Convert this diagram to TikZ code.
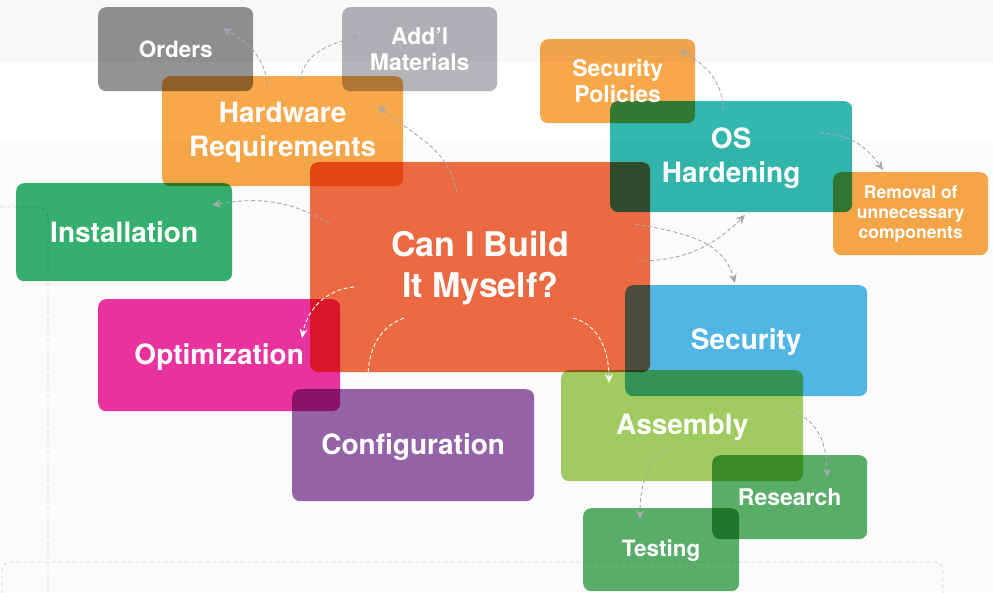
\documentclass[tikz,border=0pt]{standalone}
\usepackage{fontspec}
\setmainfont{TeX Gyre Heros}
\usetikzlibrary{arrows.meta}
\definecolor{cOrd}{HTML}{939395}
\definecolor{cAdd}{HTML}{B4B5B8}
\definecolor{cOra}{HTML}{F7A84A}
\definecolor{cCan}{HTML}{EF6C44}
\definecolor{cIns}{HTML}{35B26F}
\definecolor{cOpt}{HTML}{EC33A0}
\definecolor{cCfg}{HTML}{9765AA}
\definecolor{cOS}{HTML}{33B7AE}
\definecolor{cSec}{HTML}{52B8E6}
\definecolor{cAsm}{HTML}{A3CF62}
\definecolor{cGrn}{HTML}{5BB06B}
\definecolor{cArr}{HTML}{A8A8AC}
\definecolor{cBg}{HTML}{FBFBFB}
\definecolor{cBgTop}{HTML}{F8F8F9}
\definecolor{cGuide}{HTML}{D4D4D4}
\tikzset{
  box/.style={rectangle, rounded corners=8pt, inner sep=0pt, anchor=north west, draw=none, blend mode=multiply},
  lbl/.style={text=white, align=center, inner sep=0pt},
  conn/.style={draw=cArr, line width=0.9pt, dash pattern=on 4pt off 2.5pt,
    -{Stealth[length=9pt,width=8pt,inset=3pt]}},
  wconn/.style={conn, draw=white},
  guide/.style={draw=cGuide, line width=0.8pt, dash pattern=on 4pt off 3pt},
}
\newcommand{\fs}[2]{\bfseries\fontsize{#1}{#2}\selectfont}
\begin{document}
\begin{tikzpicture}[x=1pt,y=1pt]
% background
\fill[cBg] (0,0) rectangle (993,-592);
\fill[cBgTop] (0,0) rectangle (993,-62);
\fill[white] (0,-62) rectangle (993,-142);
\useasboundingbox (0,0) rectangle (993,-592);
% guide lines
\draw[guide] (0,-207) -- (38,-207) arc[start angle=90,end angle=0,radius=10] -- (48,-592);
\draw[guide, rounded corners=8pt] (2,-600) -- (2,-562) -- (943,-562) -- (943,-600);

% boxes
\node[box, fill=cOrd, minimum width=155pt, minimum height=84pt] (ord) at (98,-7) {};
\node[box, fill=cAdd, minimum width=155pt, minimum height=84pt] (add) at (342,-7) {};
\node[box, fill=cOra, minimum width=241pt, minimum height=110pt] (hw) at (162,-76) {};
\node[box, fill=cCan, minimum width=340pt, minimum height=210pt] (can) at (310,-162) {};
\node[box, fill=cIns, minimum width=216pt, minimum height=98pt] (ins) at (16,-183) {};
\node[box, fill=cOpt, minimum width=242pt, minimum height=112pt] (opt) at (98,-299) {};
\node[box, fill=cCfg, minimum width=242pt, minimum height=112pt] (cfg) at (292,-389) {};
\node[box, fill=cOra, minimum width=155pt, minimum height=84pt] (sp) at (540,-39) {};
\node[box, fill=cOS, minimum width=242pt, minimum height=111pt] (os) at (610,-101) {};
\node[box, fill=cOra, minimum width=155pt, minimum height=83pt] (rem) at (833,-172) {};
\node[box, fill=cSec, minimum width=242pt, minimum height=111pt] (sec) at (625,-285) {};
\node[box, fill=cAsm, minimum width=242pt, minimum height=111pt] (asm) at (561,-370) {};
\node[box, fill=cGrn, minimum width=155pt, minimum height=84pt] (res) at (712,-455) {};
\node[box, fill=cGrn, minimum width=156pt, minimum height=83pt] (tst) at (583,-508) {};

% labels
\node[lbl, font=\fs{22.5}{26}] (ordt) at (ord.center) {Orders};
\node[lbl, font=\fs{23}{26}] (addt) at (add.center) {Add’l\\Materials};
\node[lbl, font=\fs{28}{34}] (hwt) at ([yshift=-1pt]hw.center) {Hardware\\Requirements};
\node[lbl, font=\fs{34}{41}] (cant) at ([yshift=-1pt]can.center) {Can I Build\\It Myself?};
\node[lbl, font=\fs{28}{34}] (inst) at (ins.center) {Installation};
\node[lbl, font=\fs{28}{34}] (optt) at ([yshift=-2pt]opt.center) {Optimization};
\node[lbl, font=\fs{28}{34}] (cfgt) at ([yshift=-2pt]cfg.center) {Configuration};
\node[lbl, font=\fs{23}{26}] (spt) at (sp.center) {Security\\Policies};
\node[lbl, font=\fs{28}{34}] (ost) at ([yshift=-1pt]os.center) {OS\\Hardening};
\node[lbl, font=\fs{17.5}{20}] (remt) at (rem.center) {Removal of\\unnecessary\\components};
\node[lbl, font=\fs{28}{34}] (sect) at ([yshift=-1pt]sec.center) {Security};
\node[lbl, font=\fs{28}{34}] (asmt) at ([yshift=-2pt]asm.center) {Assembly};
\node[lbl, font=\fs{23}{26}] (rest) at (res.center) {Research};
\node[lbl, font=\fs{22.5}{26}] (tstt) at ([yshift=-1pt]tst.center) {Testing};

% connector end points
\coordinate (hwA) at (267,-88);  \coordinate (ordA) at (223,-28);
\coordinate (hwB) at (300,-80);  \coordinate (addA) at (360,-36);
\coordinate (canA) at (457,-193); \coordinate (hwC) at (378,-106);
\coordinate (canB) at (329,-223); \coordinate (insA) at (212,-205);
\coordinate (canC) at (354,-287); \coordinate (optA) at (302,-338);
\coordinate (canD) at (404,-318); \coordinate (cfgA) at (368,-383);
\coordinate (canE) at (573,-318); \coordinate (asmA) at (609,-383);
\coordinate (canF) at (637,-261); \coordinate (osA) at (745,-215);
\coordinate (canG) at (635,-224); \coordinate (secA) at (735,-283);
\coordinate (osB) at (723,-110);  \coordinate (spA) at (680,-50);
\coordinate (osC) at (820,-133);  \coordinate (remA) at (883,-170);
\coordinate (asmB) at (792,-412); \coordinate (resA) at (827,-477);
\coordinate (asmC) at (668,-449); \coordinate (tstA) at (640,-519);

% connectors
\draw[conn] (hwA) to[out=90,in=-30] (ordA);
\draw[conn] (hwB) to[out=80,in=195] (addA);
\draw[conn] (canA) to[out=100,in=-40] (hwC);
\draw[conn] (canB) to[out=150,in=10] (insA);
\draw[wconn] (canC) to[out=185,in=80] (optA);
\draw[wconn] (canD) to[out=200,in=90] (cfgA);
\draw[wconn] (canE) to[out=-15,in=90] (asmA);
\draw[conn] (canF) to[out=0,in=225] (osA);
\draw[conn] (canG) to[out=-10,in=105] (secA);
\draw[conn] (osB) to[out=90,in=-30] (spA);
\draw[conn] (osC) to[out=0,in=125] (remA);
\draw[conn] (asmB) to[out=-15,in=90] (resA);
\draw[conn] (asmC) to[out=215,in=90] (tstA);
\end{tikzpicture}
\end{document}
